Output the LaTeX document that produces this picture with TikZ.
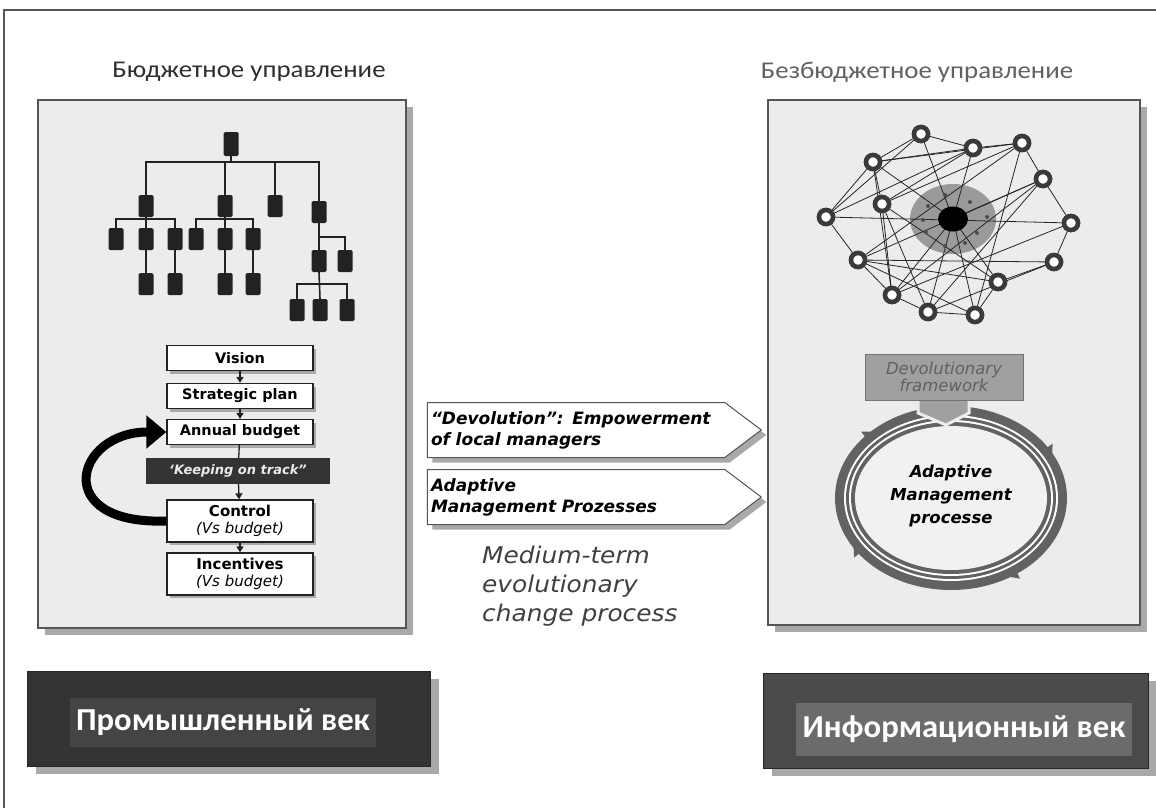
\documentclass[tikz,border=0pt]{standalone}
\usepackage{fontspec}
\setmainfont{DejaVu Sans}
\newfontfamily\ttl{Carlito}[FakeStretch=1.12]
\newfontfamily\lbl{Carlito}[FakeStretch=1.02]
\newfontfamily\comic{DejaVu Sans}
\newfontfamily\comicw{DejaVu Sans}[FakeStretch=1.08]
\usetikzlibrary{shapes.symbols,arrows.meta,decorations.markings,shadows}
\definecolor{panel}{HTML}{ECECEC}
\definecolor{pborder}{HTML}{555555}
\definecolor{shad}{HTML}{A9A9A9}
\definecolor{obox}{HTML}{222222}
\definecolor{ringc}{HTML}{3A3A3A}
\definecolor{ringband}{HTML}{626262}
\definecolor{disk}{HTML}{9A9A9A}
\definecolor{dfbox}{HTML}{A0A0A0}
\definecolor{darkbox}{HTML}{333333}
\definecolor{darkin}{HTML}{444444}
\definecolor{rbox}{HTML}{4A4A4A}
\definecolor{rin}{HTML}{6B6B6B}
\definecolor{inner}{HTML}{F1F1F1}
\begin{document}
\begin{tikzpicture}[x=1pt,y=-1pt,
  panelbox/.style={fill=panel,draw=pborder,line width=1.2,inner sep=0,
    drop shadow={shadow xshift=7pt,shadow yshift=-7pt,fill=shad,opacity=1}},
  ob/.style={fill=obox,rounded corners=1.5,minimum width=15,minimum height=22,inner sep=0},
  orgline/.style={draw=obox,line width=1.6},
  fb/.style={draw=obox,line width=1.3,fill=white,minimum width=146,minimum height=25,inner sep=0,
    align=center,font=\comic\bfseries\fontsize{14.5}{15}\selectfont,
    drop shadow={shadow xshift=3pt,shadow yshift=-3pt,fill=shad,opacity=1}},
  fa/.style={draw=obox,line width=1.3,-{Triangle[length=6,width=7]}},
  sig/.style={signal,signal to=east,signal pointer angle=74,draw=pborder,line width=1,fill=white,
    minimum width=334,minimum height=55,inner sep=2,text width=290,align=left,
    font=\comic\bfseries\itshape\fontsize{17}{21}\selectfont,
    drop shadow={shadow xshift=5pt,shadow yshift=-5pt,fill=shad,opacity=1}},
  rg/.style={circle,draw=ringc,line width=4.5,fill=white,minimum size=14,inner sep=0},
  nl/.style={draw=black!85,line width=0.8},
  agebox/.style={inner sep=0,draw=black!85,line width=1,
    drop shadow={shadow xshift=9pt,shadow yshift=-8pt,fill=shad,opacity=1}},
  agetext/.style={inner sep=0,text=white,font=\lbl\bfseries\fontsize{32}{33}\selectfont}
]
\useasboundingbox (0,0) rectangle (1156,808);
\fill[white] (0,0) rectangle (1156,808);
% outer frame
\draw[pborder,line width=1.6] (4,808) -- (4,10) -- (1156,10);

% titles
\node[font=\ttl\fontsize{24}{26}\selectfont,text=black!82] (tl) at (249,72) {Бюджетное управление};
\node[font=\ttl\fontsize{24}{26}\selectfont,text=black!62] (tr) at (917,72) {Безбюджетное управление};

% panels
\node[panelbox,minimum width=368,minimum height=528] (lp) at (222,364) {};
\node[panelbox,minimum width=372,minimum height=525] (rp) at (954,362.5) {};

% ---------------- org chart
\node[ob,minimum height=24] (t) at (231,144) {};
\node[ob] (a1) at (146,206) {};
\node[ob] (a2) at (225,206) {};
\node[ob] (a3) at (275,206) {};
\node[ob] (a4) at (319,212) {};
\node[ob] (b1) at (116,239) {};
\node[ob] (b2) at (146,239) {};
\node[ob] (b3) at (175,239) {};
\node[ob] (b4) at (196,239) {};
\node[ob] (b5) at (225,239) {};
\node[ob] (b6) at (253,239) {};
\node[ob] (c1) at (146,284) {};
\node[ob] (c2) at (175,284) {};
\node[ob] (c3) at (225,284) {};
\node[ob] (c4) at (253,284) {};
\node[ob] (d1) at (319,261) {};
\node[ob] (d2) at (345,261) {};
\node[ob] (e1) at (297,310) {};
\node[ob] (e2) at (320,310) {};
\node[ob] (e3) at (347,310) {};
\coordinate (j0) at (231,162);
\coordinate (j1) at (146,219);
\coordinate (j2) at (225,219);
\coordinate (j3) at (319,237);
\coordinate (j4) at (320,284);
\draw[orgline] (t.south) -- (j0);
\draw[orgline] (a1.north) |- (j0) -| (a4.north);
\draw[orgline] (a2.north) -- (a2.north |- j0);
\draw[orgline] (a3.north) -- (a3.north |- j0);
\draw[orgline] (b1.north) |- (j1) -| (b3.north);
\draw[orgline] (a1.south) -- (b2.north);
\draw[orgline] (b2.south) -- (c1.north);
\draw[orgline] (b3.south) -- (c2.north);
\draw[orgline] (b4.north) |- (j2) -| (b6.north);
\draw[orgline] (a2.south) -- (b5.north);
\draw[orgline] (b5.south) -- (c3.north);
\draw[orgline] (b6.south) -- (c4.north);
\draw[orgline] (a4.south) -- (d1.north);
\draw[orgline] (j3) -| (d2.north);
\draw[orgline] (d1.south) -- (e2.north);
\draw[orgline] (e1.north) |- (j4) -| (e3.north);

% ---------------- flow
\node[fb] (v) at (240,358) {Vision};
\node[fb] (s) at (240,396) {Strategic plan};
\node[fb] (ab) at (240,432) {Annual budget};
\node[fill=darkbox,minimum width=184,minimum height=26,inner sep=0,text=white!92!black,
  font=\comic\bfseries\itshape\fontsize{13}{13}\selectfont] (k) at (238,471) {‘Keeping on track”};
\node[fb,minimum height=42,font=\comic\bfseries\fontsize{15}{17}\selectfont] (ct) at (240,521)
  {Control\\{\mdseries\itshape (Vs budget)}};
\node[fb,minimum height=42,font=\comic\bfseries\fontsize{15}{17}\selectfont] (in) at (240,574)
  {Incentives\\{\mdseries\itshape (Vs budget)}};
\draw[fa] (v) -- (s);
\draw[fa] (s) -- (ab);
\draw[draw=obox,line width=1.3] (ab) -- (k);
\draw[fa] (k) -- (ct);
\draw[fa] (ct) -- (in);
\draw[black,line width=9,-{Triangle[length=20,width=32]}]
  (ct.west) .. controls (50,525) and (75,432) .. (ab.west);

% ---------------- middle arrows
\node[sig] (m1) at (576,430) {“Devolution”: Empowerment\\of local managers};
\node[sig] (m2) at (576,497) {Adaptive\\Management Prozesses};
\node[anchor=north west,align=left,text=black!75,inner sep=0,
  font=\comicw\itshape\fontsize{23}{29}\selectfont] (mt) at (482,546)
  {Medium-term\\evolutionary\\change process};

% ---------------- network
\fill[disk] (953,219) ellipse [x radius=43, y radius=35];
\coordinate (c) at (953,219);
\node[rg] (n1) at (921,134) {};
\node[rg] (n2) at (973,148) {};
\node[rg] (n3) at (1022,143) {};
\node[rg] (n4) at (873,162) {};
\node[rg] (n5) at (1043,179) {};
\node[rg] (n6) at (882,204) {};
\node[rg] (n7) at (826,217) {};
\node[rg] (n8) at (1071,223) {};
\node[rg] (n9) at (858,260) {};
\node[rg] (n10) at (1054,262) {};
\node[rg] (n11) at (998,282) {};
\node[rg] (n12) at (892,295) {};
\node[rg] (n13) at (928,312) {};
\node[rg] (n14) at (975,315) {};
\foreach \a/\b in {n7/n4,n4/n1,n1/n2,n2/n3,n3/n5,n5/n8,n8/n10,n10/n11,n11/n14,n14/n13,n13/n12,n12/n9,n9/n7,
  n7/n1,n7/n8,n4/n2,n4/n3,n4/n12,n4/n6,n2/n6,n3/n9,n3/n6,n5/n9,n5/n12,
  n8/n12,n10/n9,n10/n13,n11/n6,n11/n9,n6/n13,n6/n12,n9/n14,n7/n2,n3/n14,n5/n13}
  \draw[nl] (\a) -- (\b);
\foreach \b in {n1,n2,n4,n12,n13,n14,n11,n5}
  \draw[nl] (c) -- (\b);
\fill[black] (953,219) ellipse [x radius=15, y radius=12.5];
\foreach \p in {(945,195),(970,202),(987,217),(928,206),(923,220),(926,232),(945,246),(965,243),(977,233)}
  \fill[black!70] \p circle [radius=2];
% rings on top of lines
\foreach \n/\p in {r1/{(921,134)},r2/{(973,148)},r3/{(1022,143)},r4/{(873,162)},r5/{(1043,179)},r6/{(882,204)},r7/{(826,217)},
  r8/{(1071,223)},r9/{(858,260)},r10/{(1054,262)},r11/{(998,282)},r12/{(892,295)},r13/{(928,312)},r14/{(975,315)}}
  \node[rg] (\n) at \p {};

% ---------------- adaptive ring
\path[decoration={markings,
   mark=at position 0.157 with {\fill[ringband] (5,0) -- (-9,10) -- (-9,-10) -- cycle;},
   mark=at position 0.42 with {\fill[ringband] (5,0) -- (-9,10) -- (-9,-10) -- cycle;},
   mark=at position 0.62 with {\fill[ringband] (5,0) -- (-9,10) -- (-9,-10) -- cycle;},
   mark=at position 0.93 with {\fill[ringband] (5,0) -- (-9,10) -- (-9,-10) -- cycle;}},
   postaction={decorate}] (951,498) ellipse [x radius=111.5, y radius=87.5];
\fill[ringband] (951,498) ellipse [x radius=116, y radius=92];
\fill[white] (951,498) ellipse [x radius=107, y radius=83];
\fill[ringband] (951,498) ellipse [x radius=105, y radius=81];
\fill[white] (951,498) ellipse [x radius=102, y radius=78];
\fill[ringband] (951,498) ellipse [x radius=100, y radius=76];
\fill[inner] (951,498) ellipse [x radius=96, y radius=72];
\filldraw[fill=dfbox,draw=panel,line width=3] (918,396) -- (969,396) -- (969,413) -- (946,425) -- (918,413) -- cycle;
\node[fill=dfbox,draw=black!55,line width=1,minimum width=158,minimum height=46,inner sep=0,
  align=center,text=black!62,font=\comic\itshape\fontsize{16.5}{14}\selectfont] (df) at (944,377)
  {Devolutionary\\framework};
\node[align=center,font=\comic\bfseries\itshape\fontsize{16.5}{23}\selectfont] (amp) at (951,496)
  {Adaptive\\Management\\processe};

% ---------------- bottom boxes
\node[agebox,fill=darkbox,minimum width=403,minimum height=95] (ib) at (228.5,718.5) {};
\node[agetext,fill=darkin,minimum width=306,minimum height=49] (it) at (223,722) {Промышленный век};
\node[agebox,fill=rbox,minimum width=385,minimum height=95] (fb2) at (955.5,720.5) {};
\node[agetext,fill=rin,minimum width=336,minimum height=53] (ft) at (964,729.5) {Информационный век};
\end{tikzpicture}
\end{document}
